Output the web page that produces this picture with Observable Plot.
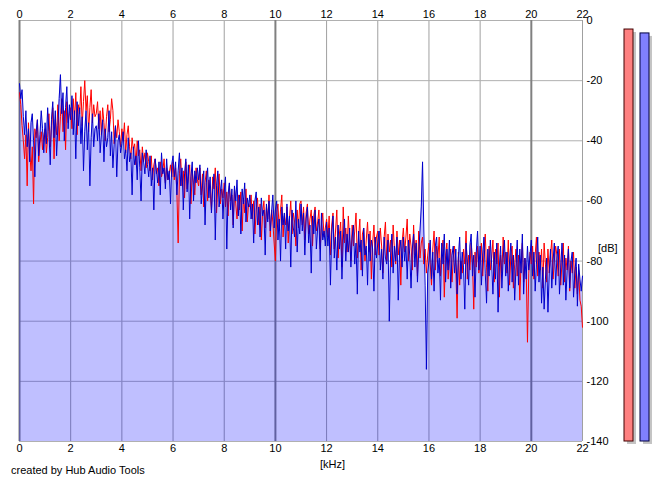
<!DOCTYPE html>
<html><head><meta charset="utf-8">
<script src="https://cdn.jsdelivr.net/npm/d3@7"></script>
<script src="https://cdn.jsdelivr.net/npm/@observablehq/plot@0.6"></script>
<style>
body{margin:0;background:#fff;}
#wrap{position:relative;width:664px;height:482px;font-family:"Liberation Sans",Arial,sans-serif;font-size:11px;color:#000;}
#wrap svg{position:absolute;top:0;}
.lbl{position:absolute;white-space:nowrap;font-size:11px;line-height:12px;}
</style></head><body>
<div id="wrap"></div>
<script>
const freqStep = 0.05; // kHz between spectrum bins
const blueDb = [
-21,-26,-23,-32,-38,-30,-42,-36,-47,-34,-31,-40,-52,-37,-33,-45,-38,-30,-36,-44,
-34,-41,-29,-37,-48,-33,-27,-39,-30,-45,-35,-26,-18,-31,-24,-40,-29,-22,-36,-28,
-33,-25,-38,-30,-46,-27,-35,-29,-41,-32,-50,-37,-30,-43,-34,-55,-39,-31,-42,-36,
-35,-40,-31,-44,-38,-33,-47,-36,-42,-39,-30,-45,-37,-49,-41,-35,-52,-40,-38,-44,
-41,-37,-46,-43,-50,-39,-47,-44,-58,-42,-48,-45,-53,-40,-49,-60,-44,-47,-51,-43,
-48,-52,-45,-55,-49,-63,-46,-50,-54,-47,-58,-44,-51,-49,-56,-46,-53,-50,-61,-48,
-45,-52,-47,-58,-50,-44,-55,-49,-63,-51,-46,-57,-48,-66,-52,-47,-60,-50,-54,-49,
-53,-48,-61,-55,-50,-68,-54,-49,-59,-52,-64,-56,-51,-73,-55,-50,-62,-57,-53,-66,
-57,-52,-76,-58,-54,-63,-56,-69,-55,-60,-53,-65,-58,-71,-56,-61,-54,-67,-59,-62,
-58,-66,-61,-74,-60,-57,-68,-62,-72,-59,-65,-63,-78,-61,-67,-60,-70,-64,-58,-69,
-63,-60,-73,-66,-80,-62,-68,-64,-76,-61,-70,-65,-82,-63,-69,-72,-60,-77,-66,-71,
-61,-70,-64,-78,-66,-62,-74,-68,-84,-65,-71,-63,-76,-69,-66,-80,-64,-73,-70,-75,
-67,-75,-69,-88,-71,-65,-79,-72,-83,-68,-76,-70,-86,-73,-66,-80,-71,-77,-69,-82,
-72,-68,-81,-74,-91,-70,-77,-73,-85,-69,-78,-75,-88,-71,-80,-73,-76,-90,-72,-79,
-74,-70,-83,-76,-86,-72,-79,-81,-73,-100,-78,-71,-84,-75,-80,-72,-93,-77,-73,-82,
-72,-80,-75,-86,-73,-78,-89,-76,-71,-82,-74,-87,-77,-70,-62,-47,-70,-88,-116,-84,
-80,-73,-86,-77,-90,-75,-72,-84,-79,-93,-74,-81,-71,-87,-76,-83,-73,-89,-78,-75,
-84,-76,-91,-79,-72,-86,-77,-82,-96,-74,-80,-88,-75,-71,-85,-78,-92,-77,-70,-83,
-75,-88,-78,-72,-84,-94,-76,-85,-73,-81,-91,-77,-86,-74,-97,-82,-75,-89,-79,-73,
-85,-77,-90,-80,-74,-87,-78,-93,-82,-73,-88,-76,-84,-71,-91,-79,-86,-75,-83,-78,
-73,-85,-77,-90,-81,-72,-87,-78,-94,-82,-96,-86,-79,-97,-84,-76,-89,-80,-74,-88,
-79,-75,-91,-82,-74,-88,-78,-93,-83,-76,-89,-80,-77,-92,-84,-79,-95,-81,-86,-90,
-85];
const redDb = [
-24,-28,-35,-40,-46,-38,-55,-34,-44,-50,-42,-61,-36,-39,-33,-47,-41,-37,-43,-38,
-36,-44,-39,-31,-42,-35,-29,-46,-33,-38,-28,-40,-32,-26,-37,-30,-43,-27,-34,-31,
-29,-36,-26,-33,-24,-38,-28,-31,-22,-35,-27,-20,-30,-25,-37,-29,-23,-34,-28,-32,
-31,-27,-36,-30,-38,-29,-34,-40,-32,-28,-37,-33,-26,-30,-41,-35,-39,-33,-37,-42,
-36,-40,-34,-44,-38,-35,-42,-46,-39,-43,-41,-48,-40,-45,-43,-50,-42,-47,-44,-49,
-44,-47,-50,-45,-53,-48,-46,-51,-49,-55,-47,-52,-50,-46,-54,-49,-53,-51,-48,-52,
-47,-53,-49,-57,-74,-51,-46,-55,-50,-59,-47,-56,-52,-48,-61,-50,-54,-58,-49,-53,
-55,-49,-58,-51,-62,-54,-50,-60,-53,-57,-63,-52,-56,-49,-64,-55,-51,-61,-56,-59,
-54,-62,-57,-65,-55,-60,-58,-68,-56,-61,-66,-58,-63,-57,-70,-59,-64,-56,-67,-61,
-62,-58,-66,-60,-71,-63,-59,-68,-61,-73,-64,-60,-69,-62,-66,-58,-72,-63,-67,-74,
-80,-64,-61,-70,-63,-58,-72,-65,-68,-62,-74,-66,-60,-71,-64,-67,-75,-63,-69,-61,
-60,-68,-62,-73,-64,-61,-71,-66,-63,-75,-65,-62,-70,-67,-63,-76,-68,-64,-72,-69,
-66,-72,-65,-78,-68,-64,-76,-70,-63,-79,-71,-67,-82,-62,-74,-69,-77,-65,-73,-80,
-68,-75,-70,-64,-79,-72,-66,-83,-71,-69,-80,-73,-67,-77,-70,-86,-74,-68,-78,-72,
-70,-78,-69,-75,-84,-72,-67,-80,-71,-77,-73,-82,-68,-76,-81,-70,-78,-73,-88,-74,
-69,-77,-72,-66,-80,-71,-75,-83,-68,-78,-73,-85,-70,-79,-74,-72,-81,-76,-84,-78,
-74,-81,-88,-76,-70,-83,-75,-79,-72,-85,-77,-73,-92,-78,-74,-86,-80,-76,-87,-79,
-75,-82,-99,-77,-88,-80,-84,-76,-81,-70,-86,-78,-83,-74,-80,-96,-77,-82,-75,-84,
-80,-74,-85,-77,-71,-82,-90,-75,-83,-79,-73,-87,-76,-81,-74,-92,-78,-84,-72,-81,
-77,-84,-73,-88,-78,-75,-89,-81,-76,-85,-78,-93,-80,-74,-87,-79,-82,-107,-84,-77,
-81,-75,-86,-78,-72,-85,-77,-83,-76,-89,-74,-81,-87,-76,-84,-78,-73,-86,-80,-75,
-78,-85,-76,-88,-80,-74,-87,-79,-83,-75,-90,-80,-84,-77,-89,-82,-91,-83,-93,-95,
-102];
const xTicks = [0,2,4,6,8,10,12,14,16,18,20,22];
const thickX = [0,10,20];
const yTicks = [0,-20,-40,-60,-80,-100,-120,-140];
const meterChannels = ["L","R"];
const meterLevels = [-3,-4.3];
const meterColors = ["#ff8080","#8080ff"];
const meterStrokes = ["#400000","#000040"];

const blue = blueDb.map((v,i)=>({f:i*freqStep, v}));
const red = redDb.map((v,i)=>({f:i*freqStep, v}));
const meterData = meterChannels.map((c,i)=>({c, v:meterLevels[i], fill:meterColors[i], stroke:meterStrokes[i]}));

const wrap = document.getElementById("wrap");

const chart = Plot.plot({
  width:664, height:482,
  marginLeft:19, marginRight:82, marginTop:20, marginBottom:41,
  x:{domain:[0,22]},
  y:{domain:[-140,0]},
  style:{fontFamily:"'Liberation Sans', Arial, sans-serif", fontSize:"11px", background:"white", color:"#000", overflow:"visible"},
  marks:[
    Plot.gridX(xTicks.filter(t=>!thickX.includes(t)), {stroke:"#a0a0a0", strokeOpacity:1}),
    Plot.gridY(yTicks, {stroke:"#b0b0b0", strokeOpacity:1}),
    Plot.gridX(thickX, {stroke:"#808080", strokeOpacity:1, strokeWidth:2}),
    Plot.areaY(blue, {x:"f", y1:-140, y2:"v", fill:"#0000ff", fillOpacity:0.25}),
    Plot.lineY(red, {x:"f", y:"v", stroke:"#ff0000", strokeWidth:1}),
    Plot.lineY(blue, {x:"f", y:"v", stroke:"#0000cc", strokeWidth:1}),
    Plot.axisX(xTicks, {anchor:"top", tickSize:0, tickPadding:3, label:null}),
    Plot.axisX(xTicks, {anchor:"bottom", tickSize:0, tickPadding:3, label:null}),
    Plot.axisY(yTicks, {anchor:"right", tickSize:0, tickPadding:4, label:null, tickFormat:d=>String(d)})
  ]
});
chart.style.left = "0px";
wrap.appendChild(chart);

const meter = Plot.plot({
  width:64, height:482,
  marginLeft:20, marginRight:11, marginTop:20, marginBottom:41,
  x:{type:"band", domain:meterChannels, paddingInner:0.4375, paddingOuter:0.25, axis:null},
  y:{domain:[-140,0], axis:null},
  color:{type:"identity"},
  style:{background:"transparent", overflow:"visible"},
  marks:[
    Plot.barY(meterData, {x:"c", y1:-140, y2:"v", fill:"#c4c4c4", dx:3, dy:3}),
    Plot.barY(meterData, {x:"c", y1:-140, y2:"v", fill:"fill", stroke:"stroke", strokeWidth:1})
  ]
});
meter.style.left = "600px";
wrap.appendChild(meter);

function addLabel(text, left, top){
  const d = document.createElement("div");
  d.className = "lbl";
  d.textContent = text;
  d.style.left = left + "px";
  d.style.top = top + "px";
  wrap.appendChild(d);
}
addLabel("[dB]", 598, 242);
addLabel("[kHz]", 320, 458);
addLabel("created by Hub Audio Tools", 11, 464);
</script>
</body></html>
